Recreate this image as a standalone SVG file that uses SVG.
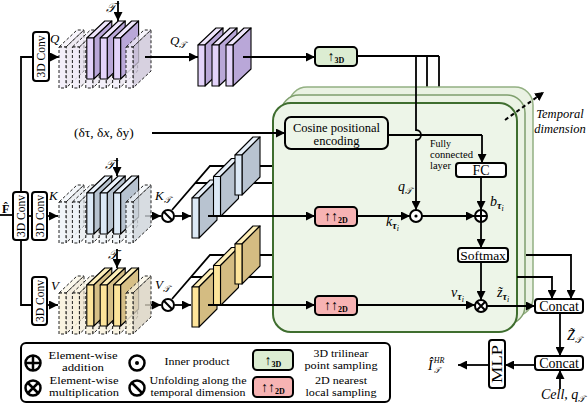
<svg xmlns="http://www.w3.org/2000/svg" width="588" height="408" viewBox="0 0 588 408">
<defs>
<style>
.ln{fill:none;stroke:#000;stroke-width:1.8}
.ar{marker-end:url(#ah)}
.bx{stroke:#000;stroke-width:2}
.i{font-style:italic}
.f{stroke:#000;stroke-width:1.1;stroke-linejoin:round}
.g{stroke:#222;stroke-width:1;stroke-dasharray:3 2;stroke-linejoin:round}
.sym{fill:#fff;stroke:#000;stroke-width:2}
</style>
<marker id="ah" viewBox="0 0 10 10" refX="10" refY="5" markerWidth="9" markerHeight="9" markerUnits="userSpaceOnUse" orient="auto"><path d="M0,0 L10,5 L0,10 z" fill="#000"/></marker>
<g id="sQ" class="f"><polygon points="0,0 7,0 25,-17 18,-17" fill="#efe6fc"/><polygon points="7,0 25,-17 25,24 7,41" fill="#b9a7d8"/><rect x="0" y="0" width="7" height="41" fill="#e3d3fa"/></g>
<g id="gQ" class="g"><polygon points="0,0 7,0 25,-17 18,-17" fill="#f4effa" fill-opacity="0.7"/><polygon points="7,0 25,-17 25,24 7,41" fill="#e2dcea" fill-opacity="0.6"/><rect x="0" y="0" width="7" height="41" fill="#f1ecf8" fill-opacity="0.85"/></g>
<g id="gQe" class="g"><polygon points="0,0 7,0 25,-17 18,-17" fill="#f4effa" fill-opacity="0.7"/><polygon points="7,0 25,-17 25,24 7,41" fill="#cdc6d8" fill-opacity="0.8"/><rect x="0" y="0" width="7" height="41" fill="#f1ecf8" fill-opacity="0.85"/></g>
<g id="sK" class="f"><polygon points="0,0 7,0 25,-17 18,-17" fill="#eaf2fb"/><polygon points="7,0 25,-17 25,24 7,41" fill="#b6c2cf"/><rect x="0" y="0" width="7" height="41" fill="#dce9f6"/></g>
<g id="gK" class="g"><polygon points="0,0 7,0 25,-17 18,-17" fill="#f1f5f9" fill-opacity="0.7"/><polygon points="7,0 25,-17 25,24 7,41" fill="#dfe4ea" fill-opacity="0.6"/><rect x="0" y="0" width="7" height="41" fill="#eef3f8" fill-opacity="0.85"/></g>
<g id="gKe" class="g"><polygon points="0,0 7,0 25,-17 18,-17" fill="#f1f5f9" fill-opacity="0.7"/><polygon points="7,0 25,-17 25,24 7,41" fill="#cdd3da" fill-opacity="0.8"/><rect x="0" y="0" width="7" height="41" fill="#eef3f8" fill-opacity="0.85"/></g>
<g id="sV" class="f"><polygon points="0,0 7,0 25,-17 18,-17" fill="#fdeeb8"/><polygon points="7,0 25,-17 25,24 7,41" fill="#d6bf86"/><rect x="0" y="0" width="7" height="41" fill="#fde49a"/></g>
<g id="gV" class="g"><polygon points="0,0 7,0 25,-17 18,-17" fill="#faf5e4" fill-opacity="0.7"/><polygon points="7,0 25,-17 25,24 7,41" fill="#ece3cc" fill-opacity="0.6"/><rect x="0" y="0" width="7" height="41" fill="#f8f1dc" fill-opacity="0.85"/></g>
<g id="gVe" class="g"><polygon points="0,0 7,0 25,-17 18,-17" fill="#faf5e4" fill-opacity="0.7"/><polygon points="7,0 25,-17 25,24 7,41" fill="#d9d2c0" fill-opacity="0.8"/><rect x="0" y="0" width="7" height="41" fill="#f8f1dc" fill-opacity="0.85"/></g>
<g id="uK" class="f"><polygon points="0,0 7,0 25,-18 18,-18" fill="#e6eef7"/><polygon points="7,0 25,-18 25,22 7,40" fill="#b8c3d0"/><rect x="0" y="0" width="7" height="40" fill="#dce9f6"/></g>
<g id="uV" class="f"><polygon points="0,0 7,0 25,-18 18,-18" fill="#fdeeb8"/><polygon points="7,0 25,-18 25,22 7,40" fill="#d4bc82"/><rect x="0" y="0" width="7" height="40" fill="#fde49a"/></g>
<g id="oplus"><circle r="6" class="sym"/><path d="M-6,0H6M0,-6V6" stroke="#000" stroke-width="2"/></g>
<g id="otimes"><circle r="6" class="sym"/><path d="M-4.2,-4.2L4.2,4.2M-4.2,4.2L4.2,-4.2" stroke="#000" stroke-width="2"/></g>
<g id="odot"><circle r="6" class="sym"/><circle r="1.6" fill="#000"/></g>
<g id="oslash"><circle r="6" class="sym"/><path d="M-4.2,-4.2L4.2,4.2" stroke="#000" stroke-width="2"/></g>
</defs>
<rect width="588" height="408" fill="#fff"/>

<g id="connectors-back">
<path class="ln" d="M357,56H439M427,56V103M439,56V95"/>
<path class="ln" d="M253,166H273M232,183H273M253,255H273M232,277H273"/>
</g>

<g id="panel">
<rect x="289" y="87" width="244" height="229" rx="18" fill="#eaf2e3" stroke="#93b082" stroke-width="1.5"/>
<rect x="281" y="95" width="244" height="229" rx="18" fill="#ebf3e4" stroke="#7f9f6d" stroke-width="1.5"/>
<rect x="273" y="103" width="244" height="229" rx="18" fill="#edf5e8" stroke="#3f6e2f" stroke-width="2"/>
</g>

<g font-family="Liberation Serif, DejaVu Serif, serif">
<g id="main-conv"><rect x="13" y="192" width="15" height="48" rx="3" fill="#fff" class="bx"/><text font-size="12" text-anchor="middle" transform="translate(24.5,216) rotate(-90)" textLength="42" lengthAdjust="spacingAndGlyphs">3D Conv</text></g>
<g id="q-conv"><rect x="33" y="32" width="16" height="49" rx="3" fill="#fff" class="bx"/><text font-size="12" text-anchor="middle" transform="translate(45.2,56.5) rotate(-90)" textLength="42" lengthAdjust="spacingAndGlyphs">3D Conv</text></g>
<g id="k-conv"><rect x="32" y="192" width="15" height="48" rx="3" fill="#fff" class="bx"/><text font-size="12" text-anchor="middle" transform="translate(43.5,216) rotate(-90)" textLength="42" lengthAdjust="spacingAndGlyphs">3D Conv</text></g>
<g id="v-conv"><rect x="32" y="277" width="15" height="48" rx="3" fill="#fff" class="bx"/><text font-size="12" text-anchor="middle" transform="translate(43.5,301) rotate(-90)" textLength="42" lengthAdjust="spacingAndGlyphs">3D Conv</text></g>
</g>

<g id="connectors">
<path class="ln" d="M0,215H13"/>
<path class="ln" d="M28,216H32"/>
<path class="ln" d="M21,192V57H33"/>
<path class="ln" d="M21,240V305H32"/>
<path class="ln ar" d="M49,57H59"/>
<path class="ln ar" d="M47,216H58"/>
<path class="ln ar" d="M47,305H58"/>
<path class="ln ar" d="M118,1V21"/>
<path class="ln ar" d="M117,158V176"/>
<path class="ln ar" d="M117,249V268"/>
<path class="ln ar" d="M152,133H285"/>
<path class="ln ar" d="M145,216H161"/>
<path class="ln ar" d="M145,305H161"/>
<path class="ln ar" d="M174.5,216H191"/>
<path class="ln ar" d="M174.5,305H191"/>
<path class="ln" d="M172,210L210,166H235M195,183H213"/>
<path class="ln" d="M172,299L210,255H235M191,277H213"/>
</g>

<g id="q-stack"><use href="#gQ" x="59" y="47"/><use href="#gQ" x="72.4" y="47"/><use href="#gQ" x="85.8" y="47"/><use href="#gQ" x="99.2" y="47"/><use href="#gQ" x="112.6" y="47"/><use href="#sQ" x="86.8" y="38"/><use href="#sQ" x="100.2" y="38"/><use href="#sQ" x="113.6" y="38"/><use href="#gQe" x="126" y="47"/></g>
<g id="k-stack"><use href="#gK" x="59" y="202"/><use href="#gK" x="72.4" y="202"/><use href="#gK" x="85.8" y="202"/><use href="#gK" x="99.2" y="202"/><use href="#gK" x="112.6" y="202"/><use href="#sK" x="86.8" y="193"/><use href="#sK" x="100.2" y="193"/><use href="#sK" x="113.6" y="193"/><use href="#gKe" x="126" y="202"/></g>
<g id="v-stack"><use href="#gV" x="59" y="293"/><use href="#gV" x="72.4" y="293"/><use href="#gV" x="85.8" y="293"/><use href="#gV" x="99.2" y="293"/><use href="#gV" x="112.6" y="293"/><use href="#sV" x="86.8" y="285"/><use href="#sV" x="100.2" y="285"/><use href="#sV" x="113.6" y="285"/><use href="#gVe" x="126" y="293"/></g>
<g id="qt-stack"><use href="#sQ" x="198" y="45"/><use href="#sQ" x="212" y="45"/><use href="#sQ" x="226" y="45"/></g>
<g id="k-unfold"><use href="#uK" x="192" y="198"/><use href="#uK" x="213.5" y="176.5"/><use href="#uK" x="235" y="155"/></g>
<g id="v-unfold"><use href="#uV" x="192" y="287"/><use href="#uV" x="213.5" y="265.5"/><use href="#uV" x="235" y="244"/></g>

<g id="connectors-front">
<path class="ln ar" d="M145,57H198"/>
<path class="ln ar" d="M243,57H315"/>
<path class="ln ar" d="M208,216H315"/>
<path class="ln ar" d="M208,305H315"/>
<path class="ln ar" d="M357,216H410"/>
<path class="ln ar" d="M357,305H475"/>
<path class="ln" d="M388,135H482"/>
<path class="ln ar" d="M482,135V163"/>
<path class="ln ar" d="M416,56V130A5,5 0 0 1 416,140V210"/>
<path class="ln ar" d="M422,216H475"/>
<path class="ln ar" d="M481,177V210"/>
<path class="ln ar" d="M481,222V248"/>
<path class="ln ar" d="M481,262V300"/>
<path class="ln ar" d="M487,306H535"/>
<path class="ln ar" d="M526,255H571V299"/>
<path class="ln ar" d="M517,277H552V299"/>
<path class="ln ar" d="M560,313V356"/>
<path class="ln ar" d="M560,389V370"/>
<path class="ln ar" d="M535,365H505"/>
<path class="ln ar" d="M489,365H458"/>
<path d="M505,120L544,92" fill="none" stroke="#000" stroke-width="2" stroke-dasharray="4 3" class="ar"/>
</g>

<g id="k-unfold-op"><use href="#oslash" x="168" y="216"/></g>
<g id="v-unfold-op"><use href="#oslash" x="168" y="305"/></g>

<g font-family="Liberation Serif, DejaVu Serif, serif">
<g id="up3d"><rect x="315" y="47" width="42" height="19" rx="4" fill="#dcedd2" class="bx"/><text x="336" y="61" font-size="14" text-anchor="middle">↑<tspan font-size="8" font-weight="bold" dy="2">3D</tspan></text></g>
<g id="k-up2d"><rect x="315" y="207" width="42" height="19" rx="4" fill="#f7b3b3" class="bx"/><text x="336" y="221" font-size="14" text-anchor="middle">↑↑<tspan font-size="8" font-weight="bold" dy="2">2D</tspan></text></g>
<g id="v-up2d"><rect x="315" y="296" width="42" height="19" rx="4" fill="#f7b3b3" class="bx"/><text x="336" y="310" font-size="14" text-anchor="middle">↑↑<tspan font-size="8" font-weight="bold" dy="2">2D</tspan></text></g>

<g id="cosine"><rect x="285" y="117" width="103" height="32" rx="6" fill="#edf5e8" class="bx"/><text x="336.5" y="132" font-size="12.5" text-anchor="middle">Cosine positional</text><text x="336.5" y="145" font-size="12.5" text-anchor="middle">encoding</text></g>
<g id="fc"><rect x="456" y="163" width="50" height="14" rx="3" fill="#fff" class="bx"/><text x="481" y="175" font-size="14" text-anchor="middle">FC</text>
<text x="430" y="147" font-size="9.5" textLength="21" lengthAdjust="spacingAndGlyphs">Fully</text><text x="430" y="158" font-size="9.5" textLength="43" lengthAdjust="spacingAndGlyphs">connected</text><text x="430" y="169" font-size="9.5" textLength="21" lengthAdjust="spacingAndGlyphs">layer</text></g>
<g id="inner"><use href="#odot" x="416" y="216"/></g>
<g id="add"><use href="#oplus" x="481" y="216"/></g>
<g id="softmax"><rect x="458" y="248" width="50" height="14" rx="3" fill="#fff" class="bx"/><text x="483" y="259.5" font-size="13.5" text-anchor="middle">Softmax</text></g>
<g id="mul"><use href="#otimes" x="481" y="306"/></g>
<g id="concat1"><rect x="535" y="299" width="48" height="14" rx="3" fill="#fff" class="bx"/><text x="559" y="310.5" font-size="14" text-anchor="middle">Concat</text></g>
<g id="concat2"><rect x="535" y="356" width="48" height="14" rx="3" fill="#fff" class="bx"/><text x="559" y="367.5" font-size="14" text-anchor="middle">Concat</text></g>
<g id="mlp"><rect x="489" y="340" width="16" height="48" rx="3" fill="#fff" class="bx"/><text font-size="14" text-anchor="middle" transform="translate(502,364) rotate(-90)" textLength="38" lengthAdjust="spacingAndGlyphs">MLP</text></g>

<g id="labels">
<text x="2" y="213" font-size="12" font-weight="bold">F̂</text>
<text class="i" x="50" y="43" font-size="13">Q</text>
<text class="i" x="49" y="200" font-size="13">K</text>
<text class="i" x="51" y="290" font-size="13">V</text>
<text class="i" x="106" y="12" font-size="13">𝒯</text>
<text class="i" x="105" y="169" font-size="13">𝒯</text>
<text class="i" x="108" y="259" font-size="13">𝒯</text>
<text class="i" x="170" y="45" font-size="13">Q<tspan font-size="9" dy="3">𝒯</tspan></text>
<text class="i" x="155" y="200" font-size="13">K<tspan font-size="9" dy="3">𝒯</tspan></text>
<text class="i" x="155" y="289" font-size="13">V<tspan font-size="9" dy="3">𝒯</tspan></text>
<text x="74" y="137" font-size="13.5">(δτ, δ<tspan font-style="italic">x</tspan>, δy)</text>
<text class="i" x="398" y="191" font-size="14">q<tspan font-size="9" dy="3">𝒯</tspan></text>
<text class="i" x="386" y="226" font-size="14">k<tspan font-size="10" font-weight="bold" dy="3">τ</tspan><tspan font-size="8" dy="2">i</tspan></text>
<text class="i" x="490" y="206" font-size="14">b<tspan font-size="10" font-weight="bold" dy="3">τ</tspan><tspan font-size="8" dy="2">i</tspan></text>
<text class="i" x="451" y="297" font-size="14">v<tspan font-size="10" font-weight="bold" dy="3">τ</tspan><tspan font-size="8" dy="2">i</tspan></text>
<text class="i" x="497" y="297" font-size="14">z̃<tspan font-size="10" font-weight="bold" dy="3">τ</tspan><tspan font-size="8" dy="2">i</tspan></text>
<text class="i" x="567" y="340" font-size="14">Z̃<tspan font-size="9" dy="3">𝒯</tspan></text>
<text class="i" x="428" y="370" font-size="14">Î<tspan font-size="8" dx="1" dy="3">𝒯</tspan><tspan font-size="8" dx="-6" dy="-10">HR</tspan></text>
<text class="i" x="541" y="399" font-size="14">Cell, q<tspan font-size="9" dy="3">𝒯</tspan></text>
<text class="i" x="560" y="118" font-size="12.5" text-anchor="middle">Temporal</text>
<text class="i" x="560" y="133" font-size="12.5" text-anchor="middle">dimension</text>
</g>

<g id="legend">
<rect x="21" y="343" width="369" height="59" rx="5" fill="#fff" class="bx"/>
<use href="#oplus" transform="translate(33,363) scale(1.25)"/>
<use href="#otimes" transform="translate(33,388) scale(1.25)"/>
<use href="#odot" transform="translate(137,363) scale(1.25)"/>
<use href="#oslash" transform="translate(137,388) scale(1.25)"/>
<g font-size="10.8" text-anchor="middle">
<text x="83" y="358.5" textLength="69" lengthAdjust="spacingAndGlyphs">Element-wise</text>
<text x="83" y="371" textLength="42" lengthAdjust="spacingAndGlyphs">addition</text>
<text x="84" y="383.5" textLength="69" lengthAdjust="spacingAndGlyphs">Element-wise</text>
<text x="84" y="396" textLength="70" lengthAdjust="spacingAndGlyphs">multiplication</text>
<text x="197" y="365" textLength="65" lengthAdjust="spacingAndGlyphs">Inner product</text>
<text x="198" y="383.5" textLength="97" lengthAdjust="spacingAndGlyphs">Unfolding along the</text>
<text x="198" y="396" textLength="95" lengthAdjust="spacingAndGlyphs">temporal dimension</text>
<text x="341" y="356.5" textLength="55" lengthAdjust="spacingAndGlyphs">3D trilinear</text>
<text x="341" y="369" textLength="73" lengthAdjust="spacingAndGlyphs">point sampling</text>
<text x="341" y="383.5" textLength="52" lengthAdjust="spacingAndGlyphs">2D nearest</text>
<text x="341" y="396" textLength="71" lengthAdjust="spacingAndGlyphs">local sampling</text>
</g>
<rect x="253" y="350" width="40" height="20" rx="4" fill="#dcedd2" class="bx"/><text x="273" y="365" font-size="14" text-anchor="middle">↑<tspan font-size="8" font-weight="bold" dy="2">3D</tspan></text>
<rect x="253" y="377" width="40" height="20" rx="4" fill="#f7b3b3" class="bx"/><text x="273" y="392" font-size="14" text-anchor="middle">↑↑<tspan font-size="8" font-weight="bold" dy="2">2D</tspan></text>
</g>
</g>
</svg>
